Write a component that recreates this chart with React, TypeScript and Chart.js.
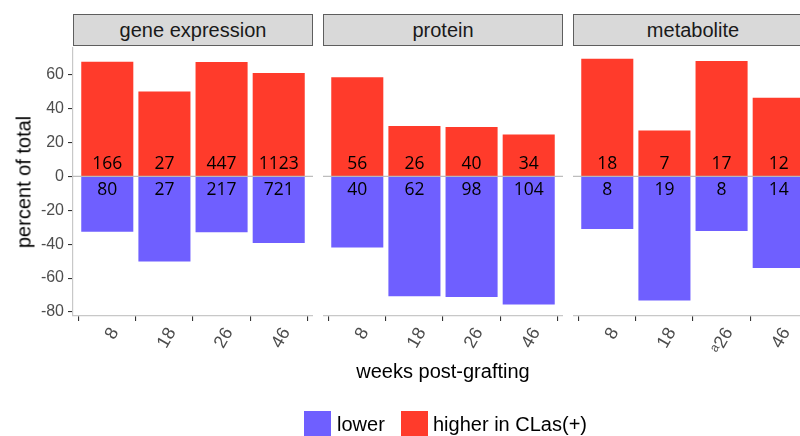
import React, { useEffect, useRef } from "react";
import { Chart, registerables } from "chart.js";

Chart.register(...registerables);

// ---------- data ----------
const panelTitles = ["gene expression", "protein", "metabolite"];
const weekLabels = ["8", "18", "26", "46"];
const metaboliteWeekLabels = ["8", "18", "\u1d4326", "46"];

const geneHigherPct = [67.5, 50.0, 67.3, 60.9];
const geneLowerPct = [-32.5, -50.0, -32.7, -39.1];
const geneHigherCounts = [166, 27, 447, 1123];
const geneLowerCounts = [80, 27, 217, 721];

const proteinHigherPct = [58.3, 29.5, 29.0, 24.6];
const proteinLowerPct = [-41.7, -70.5, -71.0, -75.4];
const proteinHigherCounts = [56, 26, 40, 34];
const proteinLowerCounts = [40, 62, 98, 104];

const metaboliteHigherPct = [69.2, 26.9, 68.0, 46.2];
const metaboliteLowerPct = [-30.8, -73.1, -32.0, -53.8];
const metaboliteHigherCounts = [18, 7, 17, 12];
const metaboliteLowerCounts = [8, 19, 8, 14];

const yTickValues = [-80, -60, -40, -20, 0, 20, 40, 60];

// ---------- style ----------
const RED = "#FF3B2B";
const BLUE = "#6F5FFF";
const SANS = "'Liberation Sans', Arial, sans-serif";
const LABEL_FONT = "'Open Sans', 'Noto Sans', sans-serif";
const Y_MIN = -82.4;
const Y_MAX = 76.4;

const PANEL_LEFT = 73;
const PANEL_W = 240;
const PANEL_GAP = 10;
const PANEL_TOP = 47;
const PANEL_BOTTOM = 316;
const X_AXIS_H = 60;

function makeConfig(
  higher: number[],
  lower: number[],
  higherCounts: number[],
  lowerCounts: number[],
  labels: string[],
  showY: boolean
): any {
  const countsPlugin = {
    id: "counts" + (showY ? "Y" : "N"),
    afterDatasetsDraw(chart: any) {
      const { ctx, chartArea } = chart;
      const y = chart.scales.y;
      const zero = y.getPixelForValue(0);
      ctx.save();
      ctx.strokeStyle = "rgba(185,185,185,0.95)";
      ctx.lineWidth = 1.2;
      ctx.beginPath();
      ctx.moveTo(chartArea.left, zero);
      ctx.lineTo(chartArea.right, zero);
      ctx.stroke();
      ctx.font = "17.5px " + LABEL_FONT;
      ctx.fillStyle = "#000";
      ctx.textAlign = "center";
      ctx.textBaseline = "alphabetic";
      chart.getDatasetMeta(1).data.forEach((el: any, j: number) => {
        ctx.fillText(String(higherCounts[j]), el.x, zero - 7);
      });
      chart.getDatasetMeta(0).data.forEach((el: any, j: number) => {
        ctx.fillText(String(lowerCounts[j]), el.x, zero + 19);
      });
      ctx.restore();
    },
  };

  return {
    type: "bar",
    data: {
      datasets: [
        {
          label: "lower",
          data: lower.map((v, j) => ({ x: j + 1, y: v })),
          backgroundColor: BLUE,
        },
        {
          label: "higher in CLas(+)",
          data: higher.map((v, j) => ({ x: j + 1, y: v })),
          backgroundColor: RED,
        },
      ],
    },
    options: {
      responsive: false,
      maintainAspectRatio: false,
      animation: false,
      layout: { padding: 0 },
      datasets: { bar: { barThickness: 51.4, grouped: false } },
      plugins: {
        legend: { display: false },
        tooltip: { enabled: false },
        title: { display: false },
      },
      scales: {
        x: {
          type: "linear",
          min: 0.4,
          max: 4.6,
          offset: false,
          afterBuildTicks: (s: any) => {
            s.ticks = labels.map((_, j) => ({ value: j + 1 }));
          },
          afterFit: (s: any) => {
            s.height = X_AXIS_H;
            s.paddingLeft = 0;
            s.paddingRight = 0;
          },
          ticks: {
            autoSkip: false,
            minRotation: 60,
            maxRotation: 60,
            padding: 3,
            labelOffset: 7.5,
            color: "#4D4D4D",
            font: { family: SANS, size: 18 },
            callback: (v: any) => labels[Math.round(Number(v)) - 1] ?? "",
          },
          grid: {
            display: true,
            drawOnChartArea: false,
            drawTicks: true,
            tickLength: 5,
            color: "#333333",
            lineWidth: 1.1,
          },
          border: { display: true, color: "#C8C8C8", width: 1.2 },
        },
        y: {
          display: showY,
          min: Y_MIN,
          max: Y_MAX,
          afterBuildTicks: (s: any) => {
            s.ticks = yTickValues.map((v) => ({ value: v }));
          },
          afterFit: (s: any) => {
            s.width = showY ? PANEL_LEFT : 0;
            s.paddingTop = 0;
            s.paddingBottom = 0;
          },
          ticks: {
            display: showY,
            padding: 4,
            color: "#4D4D4D",
            font: { family: SANS, size: 16 },
            callback: (v: any) => String(v),
          },
          grid: {
            display: showY,
            drawOnChartArea: false,
            drawTicks: true,
            tickLength: 5,
            color: "#333333",
            lineWidth: 1.1,
          },
          border: { display: showY, color: "#C8C8C8", width: 1.2 },
        },
      },
    },
    plugins: [countsPlugin],
  };
}

export default function App() {
  const c0 = useRef<HTMLCanvasElement>(null);
  const c1 = useRef<HTMLCanvasElement>(null);
  const c2 = useRef<HTMLCanvasElement>(null);

  useEffect(() => {
    const charts: Chart[] = [];
    const specs = [
      { ref: c0, h: geneHigherPct, l: geneLowerPct, hc: geneHigherCounts, lc: geneLowerCounts, labels: weekLabels, showY: true },
      { ref: c1, h: proteinHigherPct, l: proteinLowerPct, hc: proteinHigherCounts, lc: proteinLowerCounts, labels: weekLabels, showY: false },
      { ref: c2, h: metaboliteHigherPct, l: metaboliteLowerPct, hc: metaboliteHigherCounts, lc: metaboliteLowerCounts, labels: metaboliteWeekLabels, showY: false },
    ];
    specs.forEach((s) => {
      if (s.ref.current) {
        charts.push(new Chart(s.ref.current, makeConfig(s.h, s.l, s.hc, s.lc, s.labels, s.showY)));
      }
    });
    return () => charts.forEach((c) => c.destroy());
  }, []);

  const canvasH = PANEL_BOTTOM - PANEL_TOP + X_AXIS_H;
  const canvasStyle = (left: number, width: number): React.CSSProperties => ({
    position: "absolute",
    left,
    top: PANEL_TOP,
    width,
    height: canvasH,
  });

  return (
    <div
      style={{
        position: "absolute",
        left: 0,
        top: 0,
        width: 800,
        height: 436,
        overflow: "hidden",
        background: "#fff",
        fontFamily: SANS,
      }}
    >
      {panelTitles.map((t, i) => (
        <div
          key={t}
          style={{
            position: "absolute",
            left: PANEL_LEFT + i * (PANEL_W + PANEL_GAP),
            top: 14,
            width: PANEL_W,
            height: 32,
            boxSizing: "border-box",
            border: "1.5px solid #5E5E5E",
            background: "#D9D9D9",
            color: "#1A1A1A",
            fontSize: 20,
            display: "flex",
            alignItems: "center",
            justifyContent: "center",
            whiteSpace: "nowrap",
          }}
        >
          {t}
        </div>
      ))}
      <canvas ref={c0} width={PANEL_LEFT + PANEL_W} height={canvasH} style={canvasStyle(0, PANEL_LEFT + PANEL_W)} />
      <canvas ref={c1} width={PANEL_W} height={canvasH} style={canvasStyle(PANEL_LEFT + PANEL_W + PANEL_GAP, PANEL_W)} />
      <canvas ref={c2} width={PANEL_W} height={canvasH} style={canvasStyle(PANEL_LEFT + 2 * (PANEL_W + PANEL_GAP), PANEL_W)} />
      <div
        style={{
          position: "absolute",
          left: 23.5,
          top: 181.5,
          transform: "translate(-50%, -50%) rotate(-90deg)",
          whiteSpace: "nowrap",
          fontSize: 20,
          color: "#000",
        }}
      >
        percent of total
      </div>
      <div
        style={{
          position: "absolute",
          left: 443,
          top: 371,
          transform: "translate(-50%, -50%)",
          whiteSpace: "nowrap",
          fontSize: 20,
          color: "#000",
        }}
      >
        weeks post-grafting
      </div>
      <div style={{ position: "absolute", left: 304, top: 411, width: 27, height: 27, background: BLUE }} />
      <div style={{ position: "absolute", left: 337, top: 424, transform: "translateY(-50%)", fontSize: 20, color: "#000", whiteSpace: "nowrap" }}>
        lower
      </div>
      <div style={{ position: "absolute", left: 401, top: 411, width: 27, height: 27, background: RED }} />
      <div style={{ position: "absolute", left: 433, top: 424, transform: "translateY(-50%)", fontSize: 20, color: "#000", whiteSpace: "nowrap" }}>
        higher in CLas(+)
      </div>
    </div>
  );
}
